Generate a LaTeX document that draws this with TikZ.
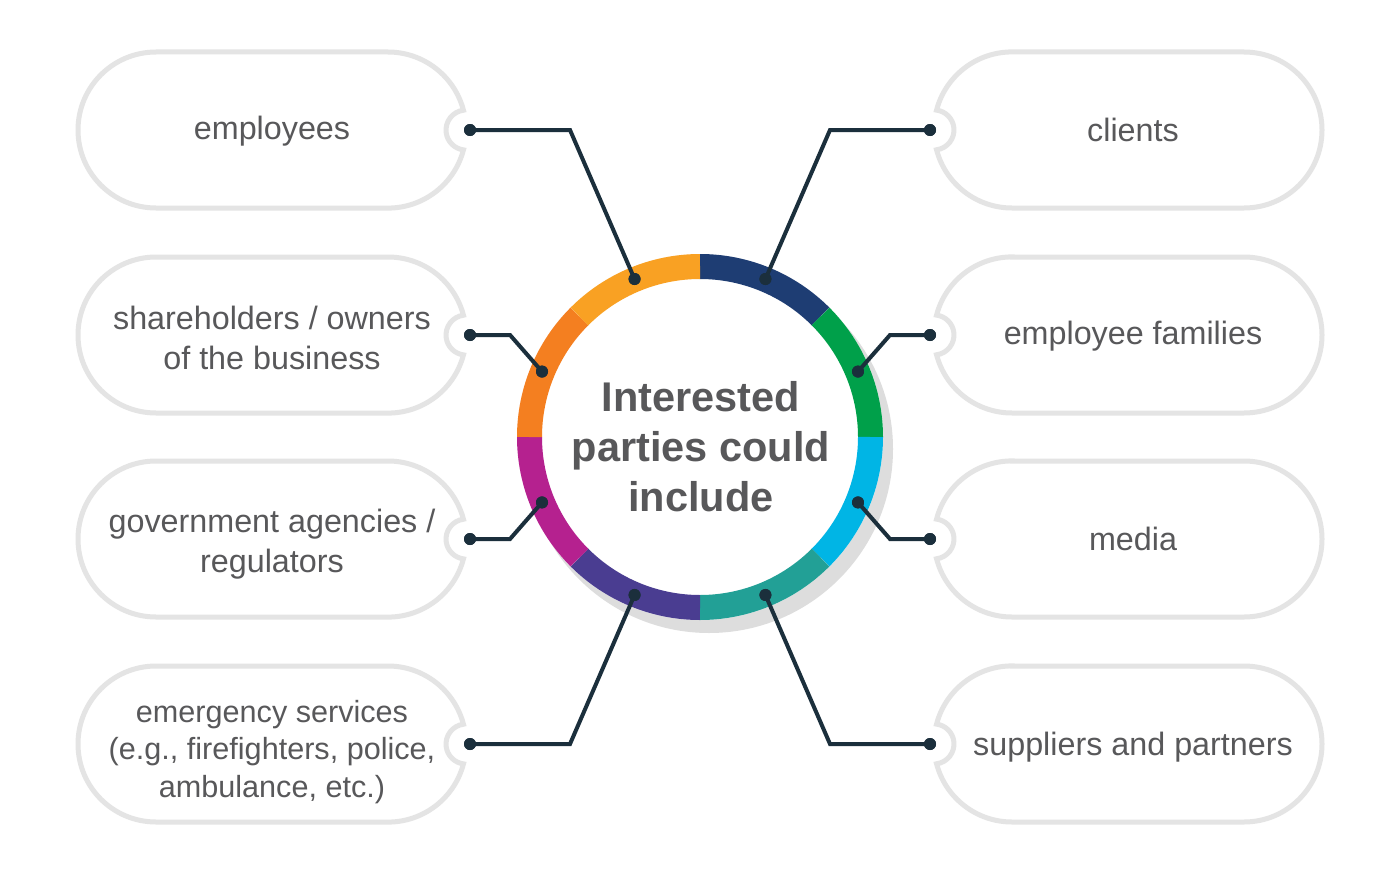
\documentclass[tikz,border=0pt]{standalone}
\usepackage{fontspec}
\setmainfont{Liberation Sans}
\definecolor{boxgray}{HTML}{E4E4E4}
\definecolor{txtgray}{HTML}{58585A}
\definecolor{conncol}{HTML}{1B2F3C}
\definecolor{cdblue}{HTML}{1E3D73}
\definecolor{cgreen}{HTML}{00A04A}
\definecolor{ccyan}{HTML}{00B5E5}
\definecolor{cteal}{HTML}{22A096}
\definecolor{cpurple}{HTML}{4A3D91}
\definecolor{cmagenta}{HTML}{B5218F}
\definecolor{corange}{HTML}{F47F20}
\definecolor{cyellow}{HTML}{F9A123}
\definecolor{shadowgray}{HTML}{DDDDDD}
\begin{document}
\begin{tikzpicture}[x=1pt,y=-1pt,
  boxline/.style={draw=boxgray,line width=5pt,fill=white},
  label/.style={text=txtgray,align=center,font=\fontsize{32.3}{39.5}\selectfont,inner sep=0pt},
  conn/.style={draw=conncol,line width=4pt,line join=miter},
  dot/.style={circle,fill=conncol,inner sep=0pt,minimum size=12pt},
  seg/.style={line width=25pt}]
\useasboundingbox (0,0) rectangle (1400,875);
\fill[white] (0,0) rectangle (1400,875);
% left boxes (notch on the right)
\foreach \c in {130,335,539,744}{
  \draw[boxline] (156,\c-78) -- (388,\c-78)
    arc[start angle=270,end angle=345.3,radius=78]
    arc[start angle=262.6,end angle=97.4,radius=20]
    arc[start angle=14.7,end angle=90,radius=78]
    -- (156,\c+78) arc[start angle=90,end angle=270,radius=78] -- cycle;
}
% right boxes (notch on the left)
\foreach \c in {130,335,539,744}{
  \draw[boxline] (1012,\c-78) -- (1244,\c-78)
    arc[start angle=270,end angle=450,radius=78]
    -- (1012,\c+78)
    arc[start angle=90,end angle=165.3,radius=78]
    arc[start angle=82.6,end angle=-82.6,radius=20]
    arc[start angle=194.7,end angle=270,radius=78] -- cycle;
}
% labels
\node[label] (lemp) at (272,131) {employees};
\node[label] (lsha) at (272,338) {shareholders / owners\\of the business};
\node[label] (lgov) at (272,544) {government agencies /\\regulators};
\node[label,font=\fontsize{30.6}{37.5}\selectfont] (lems) at (272,752) {emergency services\\(e.g., firefighters, police,\\ambulance, etc.)};
\node[label] (lcli) at (1133,130) {clients};
\node[label] (lfam) at (1133,336) {employee families};
\node[label] (lmed) at (1133,539) {media};
\node[label] (lsup) at (1133,747) {suppliers and partners};
% ring
\coordinate (C) at (700,437);
\fill[shadowgray] (709,449) circle[radius=184];
\fill[white] (C) circle[radius=183];
\draw[seg,cdblue]   (C) ++(-90:170.5) arc[start angle=-90,end angle=-45,radius=170.5];
\draw[seg,cgreen]   (C) ++(-45:170.5) arc[start angle=-45,end angle=0,radius=170.5];
\draw[seg,ccyan]    (C) ++(0:170.5) arc[start angle=0,end angle=45,radius=170.5];
\draw[seg,cteal]    (C) ++(45:170.5) arc[start angle=45,end angle=90,radius=170.5];
\draw[seg,cpurple]  (C) ++(90:170.5) arc[start angle=90,end angle=135,radius=170.5];
\draw[seg,cmagenta] (C) ++(135:170.5) arc[start angle=135,end angle=180,radius=170.5];
\draw[seg,corange]  (C) ++(180:170.5) arc[start angle=180,end angle=225,radius=170.5];
\draw[seg,cyellow]  (C) ++(225:170.5) arc[start angle=225,end angle=270,radius=170.5];
\node[text=txtgray,align=center,font=\bfseries\fontsize{41.5}{50}\selectfont] (title) at (701,447) {Interested\\parties could\\include};
% dots at boxes
\node[dot] (demp) at (470,130) {};
\node[dot] (dsha) at (470,335) {};
\node[dot] (dgov) at (470,539) {};
\node[dot] (dems) at (470,744) {};
\node[dot] (dcli) at (930,130) {};
\node[dot] (dfam) at (930,335) {};
\node[dot] (dmed) at (930,539) {};
\node[dot] (dsup) at (930,744) {};
% dots on ring
\path (C) ++(-112.5:171) node[dot] (remp) {};
\path (C) ++(-157.5:171) node[dot] (rsha) {};
\path (C) ++(157.5:171) node[dot] (rgov) {};
\path (C) ++(112.5:171) node[dot] (rems) {};
\path (C) ++(-67.5:171) node[dot] (rcli) {};
\path (C) ++(-22.5:171) node[dot] (rfam) {};
\path (C) ++(22.5:171) node[dot] (rmed) {};
\path (C) ++(67.5:171) node[dot] (rsup) {};
% connectors
\draw[conn] (demp.center) -- (570,130) -- (remp.center);
\draw[conn] (dsha.center) -- (510,335) -- (rsha.center);
\draw[conn] (dgov.center) -- (510,539) -- (rgov.center);
\draw[conn] (dems.center) -- (570,744) -- (rems.center);
\draw[conn] (dcli.center) -- (830,130) -- (rcli.center);
\draw[conn] (dfam.center) -- (890,335) -- (rfam.center);
\draw[conn] (dmed.center) -- (890,539) -- (rmed.center);
\draw[conn] (dsup.center) -- (830,744) -- (rsup.center);
% redraw dots on top
\foreach \n in {demp,dsha,dgov,dems,dcli,dfam,dmed,dsup,remp,rsha,rgov,rems,rcli,rfam,rmed,rsup}
  \fill[conncol] (\n.center) circle[radius=6];
\end{tikzpicture}
\end{document}
